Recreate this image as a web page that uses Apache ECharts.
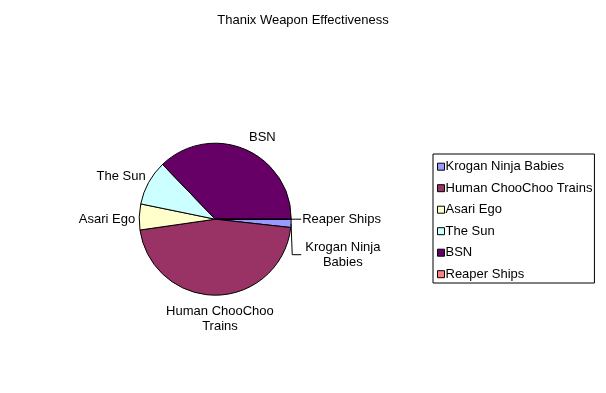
<!DOCTYPE html>
<html><head><meta charset="utf-8">
<script src="https://cdn.jsdelivr.net/npm/echarts@6/dist/echarts.min.js"></script>
<style>html,body{margin:0;padding:0;background:#fff}#c{width:606px;height:393px}</style>
</head><body><div id="c"></div>
<script>
const titleText = 'Thanix Weapon Effectiveness';
const categories = ['Krogan Ninja Babies', 'Human ChooChoo Trains', 'Asari Ego', 'The Sun', 'BSN', 'Reaper Ships'];
const sliceLabels = ['Krogan Ninja\nBabies', 'Human ChooChoo\nTrains', 'Asari Ego', 'The Sun', 'BSN', 'Reaper Ships'];
const values = [1.75, 46, 5.5, 9.6, 37.2, 0];
const colors = ['#9999FF', '#993366', '#FFFFCC', '#CCFFFF', '#660066', '#FF8080'];

const FONT = 'Liberation Sans, Arial, sans-serif';
// leader line settings per slice (hidden lines still steer the label placement)
const lineShow = [true, false, false, false, false, true];
const lineLen = [10, 30, 0, 0, 0, 5];
const lineLen2 = [9, 0, 0, 0, 0, 6];
const lineDist = [4, 0, 0, 0, 0, 1];
// label nudges for labels without a leader line
const labelNudge = {
  1: { dx: 3, dy: -6.7, align: 'center' },
  2: { dx: -4, dy: 2 },
  3: { dx: -3, dy: -6 },
  4: { dx: 4, dy: -12 }
};

const data = categories.map((name, i) => {
  const item = {
    name: name,
    value: values[i],
    itemStyle: { color: colors[i] },
    labelLine: { show: lineShow[i], length: lineLen[i], length2: lineLen2[i], lineStyle: { color: '#000', width: 1 } },
    label: { distanceToLabelLine: lineDist[i] }
  };
  if (i === 5) {
    item.label.minMargin = 24;
    item.label.margin = 24;
  }
  return item;
});

const chart = echarts.init(document.getElementById('c'), null, { renderer: 'canvas' });
chart.setOption({
  animation: false,
  backgroundColor: '#fff',
  title: {
    text: titleText,
    left: 'center',
    top: 12,
    padding: 0,
    textStyle: { fontFamily: FONT, fontSize: 13, fontWeight: 'normal', color: '#000', lineHeight: 16 }
  },
  legend: {
    orient: 'vertical',
    left: 433,
    top: 154,
    padding: [5.7, 2, 1.8, 4],
    itemWidth: 7,
    itemHeight: 7,
    itemGap: 7.5,
    icon: 'rect',
    borderColor: '#000',
    borderWidth: 1,
    backgroundColor: '#fff',
    itemStyle: { borderColor: '#000', borderWidth: 1 },
    textStyle: { fontFamily: FONT, fontSize: 13, color: '#000', lineHeight: 14, padding: [0, 0, 0, -4] },
    data: categories
  },
  series: [{
    type: 'pie',
    center: [215.2, 219.2],
    radius: 76,
    startAngle: 0,
    clockwise: true,
    avoidLabelOverlap: true,
    itemStyle: { borderColor: '#000', borderWidth: 1 },
    emphasis: { disabled: true },
    label: {
      show: true,
      position: 'outside',
      color: '#000',
      fontFamily: FONT,
      fontSize: 13,
      lineHeight: 15,
      formatter: p => {
        const lines = sliceLabels[p.dataIndex].split('\n');
        return lines.map(l => '{c|' + l + '}').join('\n');
      },
      rich: { c: { align: 'center', fontFamily: FONT, fontSize: 13, color: '#000', lineHeight: 15 } }
    },
    labelLine: { smooth: false, lineStyle: { color: '#000', width: 1 } },
    labelLayout: p => labelNudge[p.dataIndex],
    data: data
  }]
});
</script>
</body></html>
